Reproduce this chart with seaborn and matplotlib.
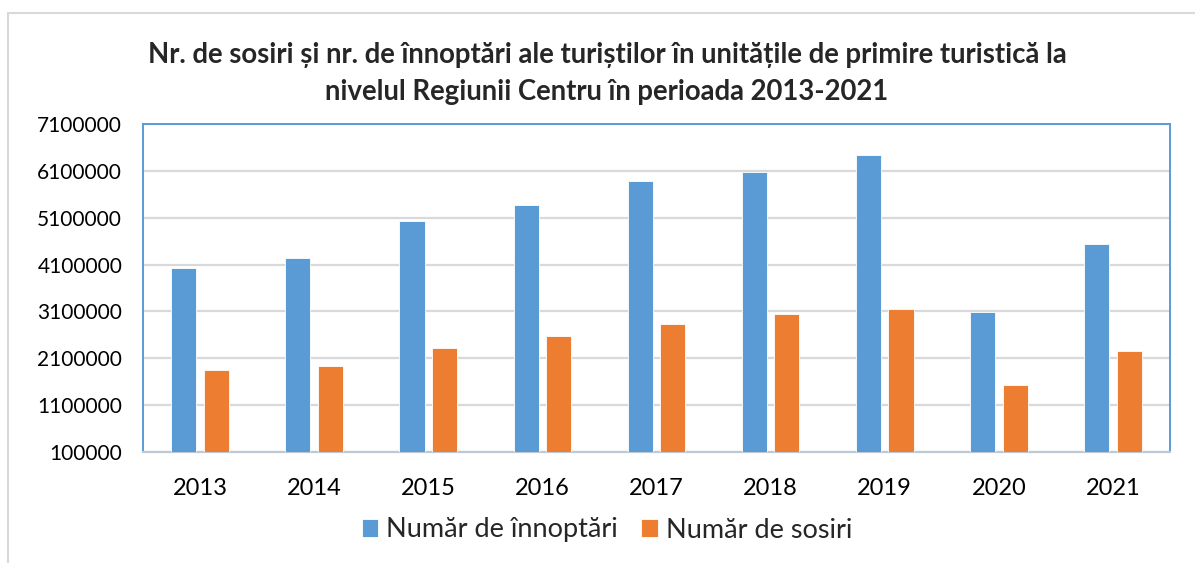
import pandas as pd
import matplotlib
matplotlib.use("Agg")
from matplotlib import pyplot as plt
from matplotlib.patches import Rectangle
from matplotlib.ticker import FixedLocator
import seaborn as sns

years = ["2013", "2014", "2015", "2016", "2017", "2018", "2019", "2020", "2021"]
innoptari = [4030000, 4240000, 5040000, 5370000, 5890000, 6080000, 6440000, 3090000, 4530000]
sosiri = [1850000, 1940000, 2320000, 2580000, 2840000, 3040000, 3160000, 1520000, 2250000]
series_names = ["Număr de înnoptări", "Număr de sosiri"]
y_ticks = [100000, 1100000, 2100000, 3100000, 4100000, 5100000, 6100000, 7100000]

df = pd.DataFrame({
    "an": years * 2,
    "valoare": innoptari + sosiri,
    "serie": [series_names[0]] * len(years) + [series_names[1]] * len(years),
})

sns.set_style("white")
plt.rcParams["font.family"] = ["Lato", "DejaVu Sans"]

fig = plt.figure(figsize=(11.95, 5.63), dpi=100)
ax = fig.add_axes([143 / 1195, 1 - 452 / 563, (1170 - 143) / 1195, (452 - 124) / 563])

# light outer border of the chart area
fig.patches.append(Rectangle((8 / 1195, -0.05), 1.1, 1 - 13 / 563 + 0.05,
                             transform=fig.transFigure, fill=False,
                             edgecolor="#D9D9D9", linewidth=1.5, zorder=0))

sns.barplot(data=df, x="an", y="valoare", hue="serie",
            palette=["#5B9BD5", "#ED7D31"], saturation=1, width=0.57, gap=0.23,
            edgecolor="white", linewidth=0.6, ax=ax, legend=True, zorder=3)

ax.set_ylim(100000, 7100000)
ax.yaxis.set_major_locator(FixedLocator(y_ticks))
ax.set_yticklabels([str(t) for t in y_ticks])
ax.grid(axis="y", color="#D9D9D9", linewidth=1.6, zorder=0)
ax.set_axisbelow(True)
ax.set_xlabel("")
ax.set_ylabel("")
ax.tick_params(axis="x", length=0, labelsize=17, colors="black", pad=19)
ax.tick_params(axis="y", length=0, labelsize=15, colors="black", pad=15)

for side in ["left", "top", "right"]:
    ax.spines[side].set_color("#5B9BD5")
    ax.spines[side].set_linewidth(1.4)
ax.spines["bottom"].set_color("#BFC9D4")
ax.spines["bottom"].set_linewidth(1.6)

ax.get_legend().remove()
handles, labels = ax.get_legend_handles_labels()
fig.legend(handles, labels, loc="center", bbox_to_anchor=(0.508, 1 - 530 / 563),
           ncol=2, frameon=False, fontsize=19.5, handlelength=0.6, handleheight=0.6,
           columnspacing=0.85, handletextpad=0.3)

fig.text(0.508, 1 - 55 / 563,
         "Nr. de sosiri și nr. de înnoptări ale turiștilor în unitățile de primire turistică la",
         ha="center", va="center", fontsize=19.8, fontweight="bold")
fig.text(0.508, 1 - 92 / 563, "nivelul Regiunii Centru în perioada 2013-2021",
         ha="center", va="center", fontsize=19.8, fontweight="bold")

fig.savefig("out.png", dpi=100)
